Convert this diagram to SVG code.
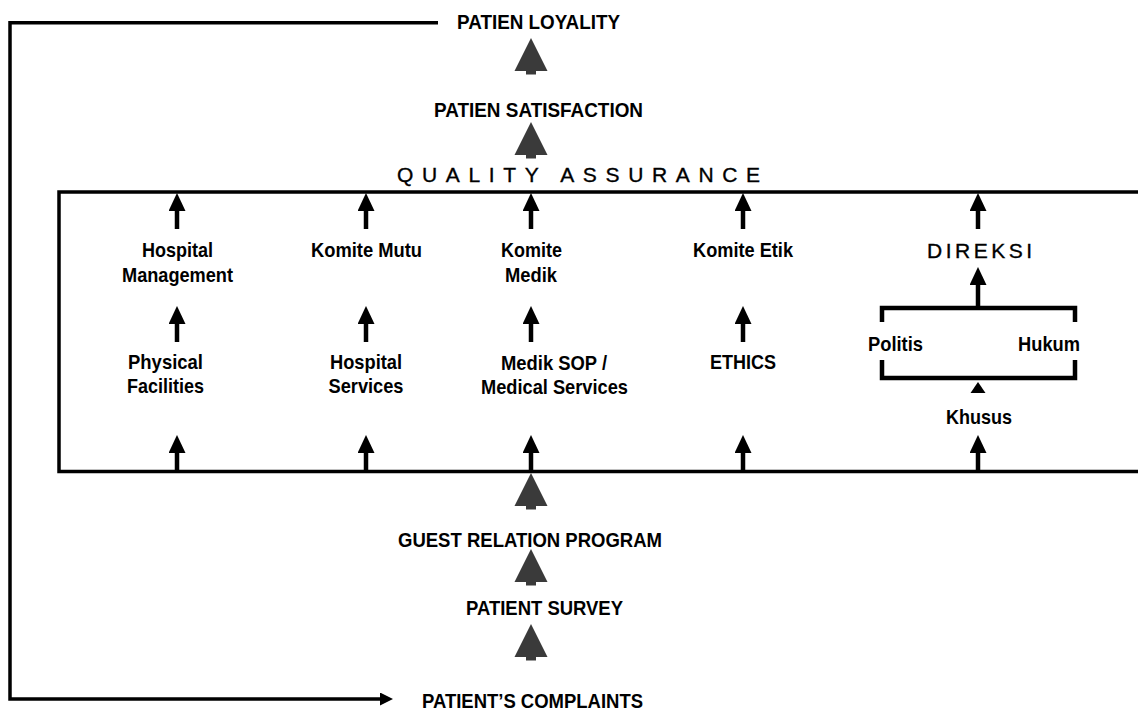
<svg xmlns="http://www.w3.org/2000/svg" width="1138" height="711" viewBox="0 0 1138 711">
  <style>
    .t { font-family: "Liberation Sans", Arial, sans-serif; font-size: 21px; font-weight: bold; fill: #000; text-anchor: middle; }
    .s { text-anchor: start; font-weight: normal; stroke: #000; stroke-width: 0.35; }
    .ln { fill: none; stroke: #000; stroke-width: 3.5; }
    .br { fill: none; stroke: #000; stroke-width: 4.5; }
    .sh { stroke: #000; stroke-width: 4.5; }
    .big { fill: #3a3a3a; }
  </style>
  <defs>
    <!-- small black arrowhead, tip 10px beyond the shaft end -->
    <marker id="head" viewBox="0 0 18 17" markerWidth="18" markerHeight="17" refX="8" refY="8.5" orient="auto" markerUnits="userSpaceOnUse">
      <path d="M0,0 L18,8.5 L0,17 Z" fill="#000"/>
    </marker>
    <marker id="loopHead" viewBox="0 0 13 13" markerWidth="13" markerHeight="13" refX="3" refY="6.5" orient="auto" markerUnits="userSpaceOnUse">
      <path d="M0,0 L13,6.5 L0,13 Z" fill="#000"/>
    </marker>
    <!-- large grey tree-shaped arrow, apex at origin -->
    <polygon id="bigArrow" class="big" points="0,0 16.5,33 5,33 5,36.5 -5,36.5 -5,33 -16.5,33"/>
  </defs>

  <!-- quality assurance frame (open to the right) -->
  <path id="frame" class="ln" d="M1142,192 H59 V471.5 H1142"/>

  <g id="connectors">
    <!-- feedback loop from loyalty back to complaints -->
    <path class="ln" d="M438,22.7 H10 V699 H383" marker-end="url(#loopHead)"/>

    <!-- large arrows along the main chain -->
    <use href="#bigArrow" x="531" y="38"/>
    <use href="#bigArrow" x="531" y="122"/>
    <use href="#bigArrow" x="531" y="473"/>
    <use href="#bigArrow" x="531" y="549"/>
    <use href="#bigArrow" x="531" y="624"/>

    <!-- top row: into the frame -->
    <line class="sh" x1="177" y1="229" x2="177" y2="203" marker-end="url(#head)"/>
    <line class="sh" x1="366" y1="229" x2="366" y2="203" marker-end="url(#head)"/>
    <line class="sh" x1="531" y1="229" x2="531" y2="203" marker-end="url(#head)"/>
    <line class="sh" x1="743" y1="229" x2="743" y2="203" marker-end="url(#head)"/>
    <line class="sh" x1="978" y1="229" x2="978" y2="203" marker-end="url(#head)"/>

    <!-- middle row -->
    <line class="sh" x1="177" y1="342" x2="177" y2="316" marker-end="url(#head)"/>
    <line class="sh" x1="366" y1="342" x2="366" y2="316" marker-end="url(#head)"/>
    <line class="sh" x1="531" y1="342" x2="531" y2="316" marker-end="url(#head)"/>
    <line class="sh" x1="743" y1="342" x2="743" y2="316" marker-end="url(#head)"/>
    <line class="sh" x1="978" y1="307" x2="978" y2="277" marker-end="url(#head)"/>

    <!-- bottom row: out of the frame base -->
    <line class="sh" x1="177" y1="471" x2="177" y2="445" marker-end="url(#head)"/>
    <line class="sh" x1="366" y1="471" x2="366" y2="445" marker-end="url(#head)"/>
    <line class="sh" x1="531" y1="471" x2="531" y2="445" marker-end="url(#head)"/>
    <line class="sh" x1="743" y1="471" x2="743" y2="445" marker-end="url(#head)"/>
    <line class="sh" x1="978" y1="471" x2="978" y2="445" marker-end="url(#head)"/>

    <!-- Khusus into the bracket -->
    <polygon points="978,382 970.5,393 985.5,393" fill="#000"/>
  </g>

  <g id="patien-loyality"><text class="t" x="538.5" y="29" textLength="163" lengthAdjust="spacingAndGlyphs">PATIEN LOYALITY</text></g>
  <g id="patien-satisfaction"><text class="t" x="538.5" y="117" textLength="209" lengthAdjust="spacingAndGlyphs">PATIEN SATISFACTION</text></g>
  <g id="quality-assurance"><text class="t s" x="397" y="182" textLength="363" lengthAdjust="spacing">QUALITY ASSURANCE</text></g>

  <g id="hospital-management">
    <text class="t" x="177.5" y="257" textLength="71" lengthAdjust="spacingAndGlyphs">Hospital</text>
    <text class="t" x="177.5" y="282" textLength="111" lengthAdjust="spacingAndGlyphs">Management</text>
  </g>
  <g id="komite-mutu"><text class="t" x="366.5" y="257" textLength="111" lengthAdjust="spacingAndGlyphs">Komite Mutu</text></g>
  <g id="komite-medik">
    <text class="t" x="531.5" y="257" textLength="61" lengthAdjust="spacingAndGlyphs">Komite</text>
    <text class="t" x="531" y="282" textLength="52" lengthAdjust="spacingAndGlyphs">Medik</text>
  </g>
  <g id="komite-etik"><text class="t" x="743" y="257" textLength="100" lengthAdjust="spacingAndGlyphs">Komite Etik</text></g>
  <g id="direksi"><text class="t s" x="927" y="258" textLength="105" lengthAdjust="spacing">DIREKSI</text></g>

  <g id="physical-facilities">
    <text class="t" x="165.5" y="369" textLength="75" lengthAdjust="spacingAndGlyphs">Physical</text>
    <text class="t" x="165.5" y="393" textLength="77" lengthAdjust="spacingAndGlyphs">Facilities</text>
  </g>
  <g id="hospital-services">
    <text class="t" x="366" y="369" textLength="72" lengthAdjust="spacingAndGlyphs">Hospital</text>
    <text class="t" x="366" y="393" textLength="75" lengthAdjust="spacingAndGlyphs">Services</text>
  </g>
  <g id="medical-services">
    <text class="t" x="554" y="370" textLength="106" lengthAdjust="spacingAndGlyphs">Medik SOP /</text>
    <text class="t" x="554.5" y="394" textLength="147" lengthAdjust="spacingAndGlyphs">Medical Services</text>
  </g>
  <g id="ethics"><text class="t" x="743" y="369" textLength="66" lengthAdjust="spacingAndGlyphs">ETHICS</text></g>

  <g id="politis-hukum">
    <path class="br" d="M882,322 V308 H1075 V322"/>
    <path class="br" d="M882,360 V378 H1075 V360"/>
    <text class="t" x="895.5" y="351" textLength="55" lengthAdjust="spacingAndGlyphs">Politis</text>
    <text class="t" x="1049" y="351" textLength="62" lengthAdjust="spacingAndGlyphs">Hukum</text>
  </g>
  <g id="khusus"><text class="t" x="979" y="424" textLength="66" lengthAdjust="spacingAndGlyphs">Khusus</text></g>

  <g id="guest-relation-program"><text class="t" x="530" y="547" textLength="264" lengthAdjust="spacingAndGlyphs">GUEST RELATION PROGRAM</text></g>
  <g id="patient-survey"><text class="t" x="544.5" y="615" textLength="157" lengthAdjust="spacingAndGlyphs">PATIENT SURVEY</text></g>
  <g id="patients-complaints"><text class="t" x="532.5" y="708" textLength="221" lengthAdjust="spacingAndGlyphs">PATIENT’S COMPLAINTS</text></g>
</svg>
